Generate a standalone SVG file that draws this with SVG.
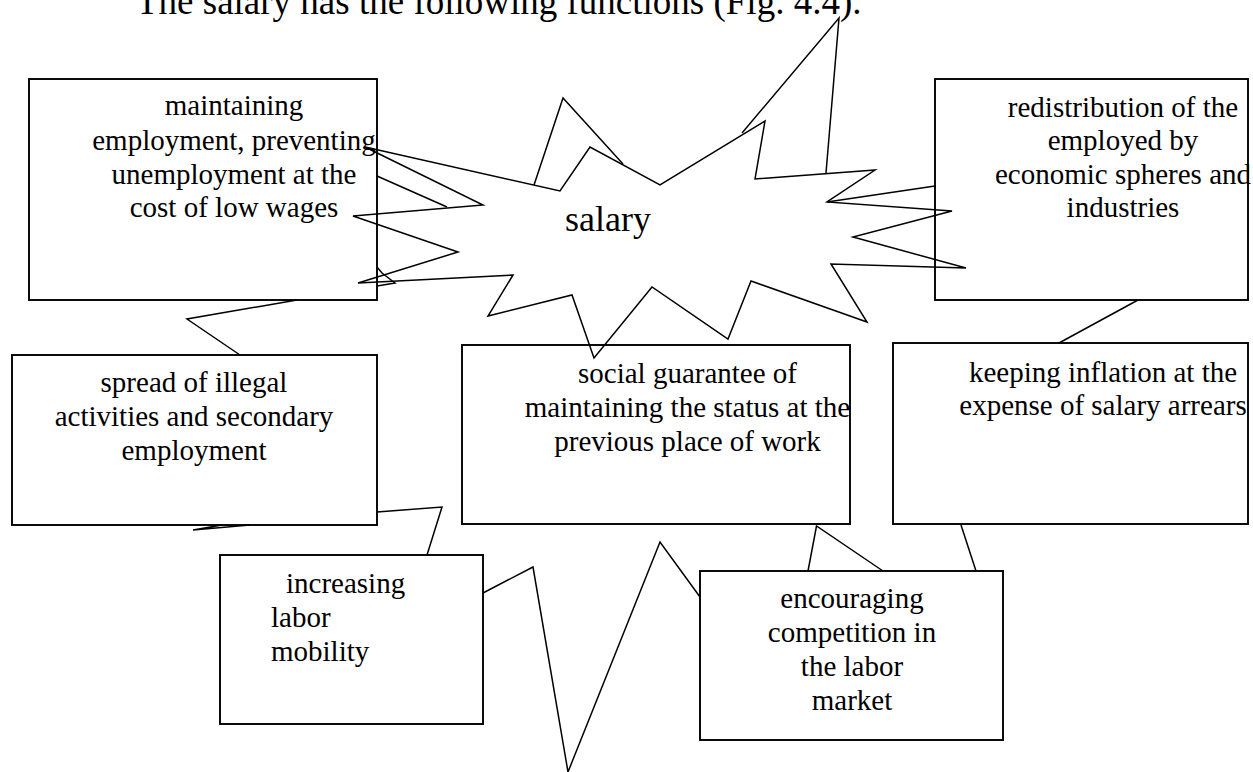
<svg xmlns="http://www.w3.org/2000/svg" width="1253" height="772" viewBox="0 0 1253 772">
  <style>
    .box { fill: #ffffff; stroke: #000000; stroke-width: 1.9; }
    .ln { fill: none; stroke: #000000; stroke-width: 1.5; stroke-linejoin: miter; }
    .t { font-family: "Liberation Serif", "Times New Roman", serif; font-size: 29px; fill: #000000; }
    .c { text-anchor: middle; }
    .title { font-family: "Liberation Serif", "Times New Roman", serif; font-size: 37px; fill: #000000; }
    .star-label { font-family: "Liberation Serif", "Times New Roman", serif; font-size: 36px; fill: #000000; text-anchor: middle; }
  </style>

  <rect width="1253" height="772" fill="#ffffff"/>

  <text class="title" x="136" y="13.5">The salary has the following functions (Fig. 4.4).</text>

  <!-- function boxes -->
  <g id="node-employment">
    <rect class="box" x="29" y="79" width="348" height="221"/>
    <text class="t c" x="234" y="115">maintaining</text>
    <text class="t c" x="234" y="150">employment, preventing</text>
    <text class="t c" x="234" y="184">unemployment at the</text>
    <text class="t c" x="234" y="217">cost of low wages</text>
  </g>

  <g id="node-redistribution">
    <rect class="box" x="935" y="79" width="313" height="221"/>
    <text class="t c" x="1123" y="117">redistribution of the</text>
    <text class="t c" x="1123" y="150">employed by</text>
    <text class="t c" x="1123" y="184">economic spheres and</text>
    <text class="t c" x="1123" y="217">industries</text>
  </g>

  <g id="node-illegal">
    <rect class="box" x="12" y="355" width="365" height="170"/>
    <text class="t c" x="194" y="392">spread of illegal</text>
    <text class="t c" x="194" y="426">activities and secondary</text>
    <text class="t c" x="194" y="460">employment</text>
  </g>

  <g id="node-guarantee">
    <rect class="box" x="462" y="345" width="388" height="179"/>
    <text class="t c" x="687.5" y="383">social guarantee of</text>
    <text class="t c" x="687.5" y="417">maintaining the status at the</text>
    <text class="t c" x="687.5" y="451">previous place of work</text>
  </g>

  <g id="node-inflation">
    <rect class="box" x="893" y="343" width="355" height="181"/>
    <text class="t c" x="1103" y="382">keeping inflation at the</text>
    <text class="t c" x="1103" y="415">expense of salary arrears</text>
  </g>

  <g id="node-mobility">
    <rect class="box" x="220" y="555" width="263" height="169"/>
    <text class="t" x="286" y="593">increasing</text>
    <text class="t" x="271" y="627">labor</text>
    <text class="t" x="271" y="661">mobility</text>
  </g>

  <g id="node-competition">
    <rect class="box" x="700" y="571" width="303" height="169"/>
    <text class="t c" x="852" y="608">encouraging</text>
    <text class="t c" x="852" y="642">competition in</text>
    <text class="t c" x="852" y="676">the labor</text>
    <text class="t c" x="852" y="710">market</text>
  </g>

  <!-- central explosion shape -->
  <g id="node-salary">
    <polygon class="ln" points="353,216 483,205 365,147 560,191 590,147 660,185 765,121 755,179 875,170 827,202 952,211 853,237 966,268 831,264 867,322 751,281 728,339 652,287 594,358 572,295 488,316 513,275 358,283 458,252"/>
    <text class="star-label" x="608" y="231">salary</text>
  </g>

  <!-- callout wedges linking the shapes -->
  <g id="connectors">
    <polyline class="ln" points="742,133 839,18 826,173"/>
    <polyline class="ln" points="534,185 563,98 623,164"/>
    <polyline class="ln" points="377,176 447,207"/>
    <polyline class="ln" points="377,267 382,273 395,283 377,286"/>
    <polyline class="ln" points="297,300 187,319 240,355"/>
    <polyline class="ln" points="377,512 442,507 427,555"/>
    <polyline class="ln" points="250,525 193,530 222,525"/>
    <polyline class="ln" points="483,593 533,567 568,772 660,542 700,597"/>
    <polyline class="ln" points="808,571 816.5,526 883,571"/>
    <polyline class="ln" points="961,525 976,571"/>
    <polyline class="ln" points="1138,300 1059,343"/>
    <polyline class="ln" points="827,202 935,186"/>
  </g>
</svg>
